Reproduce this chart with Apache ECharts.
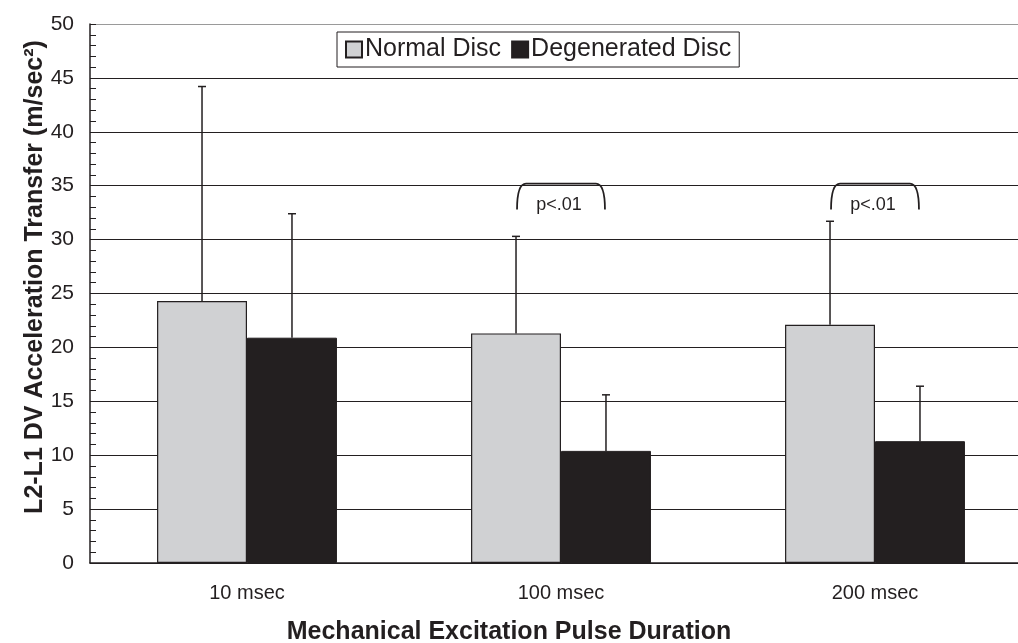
<!DOCTYPE html>
<html><head><meta charset="utf-8">
<script src="https://cdn.jsdelivr.net/npm/echarts@6/dist/echarts.min.js"></script>
<style>html,body{margin:0;padding:0;background:#fff;overflow:hidden;width:1018px;height:643px}#c{width:1032px;height:643px}</style>
</head><body><div id="c"></div>
<script>
var categories = ['10 msec', '100 msec', '200 msec'];
var normalMean = [24.3, 21.3, 22.1];
var normalSD = [19.9, 9.0, 9.6];
var degenMean = [20.9, 10.4, 11.3];
var degenSD = [11.5, 5.2, 5.1];
var sigCategories = [1, 2];
var sigLabel = 'p<.01';
var bracketTop = 35.2, bracketBottom = 32.8, bracketText = 33.2;
var yTicks = [0, 5, 10, 15, 20, 25, 30, 35, 40, 45, 50];

var FONT = '"Liberation Sans", Arial, Helvetica, sans-serif';
var INK = '#231f20';
var GAP = 0.427;

function errData(mean, sd) { return mean.map(function (m, i) { return [i, m, m + sd[i]]; }); }

function errRender(sign) {
  return function (params, api) {
    var idx = api.value(0);
    var band = api.size([1, 0])[0];
    var bw = band * (1 - GAP) / 2;
    var p0 = api.coord([idx, api.value(1)]);
    var p1 = api.coord([idx, api.value(2)]);
    var x = p0[0] + sign * bw / 2;
    return {
      type: 'group', children: [
        { type: 'line', shape: { x1: x, y1: p0[1], x2: x, y2: p1[1] }, style: { stroke: INK, lineWidth: 1.5 } },
        { type: 'line', shape: { x1: x - 4, y1: p1[1], x2: x + 4, y2: p1[1] }, style: { stroke: INK, lineWidth: 1.5 } }
      ]
    };
  };
}

var gridColors = yTicks.map(function (v, i) { return i === yTicks.length - 1 ? '#9a9a9a' : INK; });

var chart = echarts.init(document.getElementById('c'));
chart.setOption({
  animation: false,
  backgroundColor: '#fff',
  textStyle: { fontFamily: FONT },
  grid: { left: 90, top: 24, right: 0, bottom: 80, containLabel: false },
  legend: {
    data: ['Normal Disc', 'Degenerated Disc'],
    left: 337, top: 32,
    icon: 'rect', itemWidth: 16, itemHeight: 16, itemGap: 10,
    padding: [5, 8, 5, 8],
    borderColor: INK, borderWidth: 1, backgroundColor: '#fff',
    textStyle: { fontSize: 25, color: INK, fontFamily: FONT, padding: [0, 0, 0, -2] }
  },
  xAxis: {
    type: 'category', data: categories,
    axisLine: { lineStyle: { color: INK, width: 1.5 } },
    axisTick: { show: false },
    axisLabel: { fontSize: 20, color: INK, margin: 20, fontFamily: FONT },
    splitLine: { show: false }
  },
  yAxis: {
    type: 'value', min: 0, max: 50, interval: 5,
    axisLine: { show: true, lineStyle: { color: INK, width: 1.5 } },
    axisTick: { show: true, inside: true, length: 6, lineStyle: { color: INK } },
    minorTick: { show: true, splitNumber: 5, length: 6, lineStyle: { color: INK } },
    axisLabel: { fontSize: 21, color: INK, margin: 16, fontFamily: FONT,
      formatter: function (v) { return yTicks.indexOf(v) >= 0 ? String(v) : ''; } },
    splitLine: { show: true, lineStyle: { color: gridColors, width: 1 } }
  },
  graphic: [
    { type: 'text', x: 35, y: 277, rotation: Math.PI / 2,
      style: { text: 'L2-L1 DV Acceleration Transfer (m/sec²)', fontSize: 25, fontWeight: 'bold', fill: INK,
        fontFamily: FONT, textAlign: 'center', textVerticalAlign: 'middle' } },
    { type: 'text', x: 509, y: 632,
      style: { text: 'Mechanical Excitation Pulse Duration', fontSize: 25, fontWeight: 'bold', fill: INK,
        fontFamily: FONT, textAlign: 'center', textVerticalAlign: 'middle' } }
  ],
  series: [
    { name: 'Normal Disc', type: 'bar', data: normalMean, barGap: '0%', barCategoryGap: (GAP * 100) + '%',
      itemStyle: { color: '#d0d1d3', borderColor: INK, borderWidth: 1.2 }, z: 3 },
    { name: 'Degenerated Disc', type: 'bar', data: degenMean, barGap: '0%', barCategoryGap: (GAP * 100) + '%',
      itemStyle: { color: INK, borderColor: INK, borderWidth: 1 }, z: 3 },
    { type: 'custom', data: errData(normalMean, normalSD), renderItem: errRender(-1), z: 4, silent: true,
      encode: { x: 0, y: [1, 2] } },
    { type: 'custom', data: errData(degenMean, degenSD), renderItem: errRender(1), z: 4, silent: true,
      encode: { x: 0, y: [1, 2] } },
    { type: 'custom', z: 4, silent: true,
      data: sigCategories.map(function (c) { return [c, bracketTop, bracketBottom, bracketText]; }),
      encode: { x: 0, y: [1, 2] },
      renderItem: function (params, api) {
        var idx = api.value(0);
        var band = api.size([1, 0])[0];
        var half = band * 0.14;
        var pt = api.coord([idx, api.value(1)]);
        var pb = api.coord([idx, api.value(2)]);
        var pl = api.coord([idx, api.value(3)]);
        var L = pt[0] - half, R = pt[0] + half, T = pt[1], B = pb[1];
        var path = 'M' + L + ' ' + B + ' Q' + L + ' ' + T + ' ' + (L + 9) + ' ' + T +
          ' L' + (R - 9) + ' ' + T + ' Q' + R + ' ' + T + ' ' + R + ' ' + B;
        return {
          type: 'group', children: [
            { type: 'path', shape: { pathData: path }, style: { fill: 'none', stroke: INK, lineWidth: 1.8 } },
            { type: 'text', x: pt[0] - 2, y: pl[1],
              style: { text: sigLabel, fontSize: 18, fill: INK, fontFamily: FONT, textAlign: 'center', textVerticalAlign: 'middle' } }
          ]
        };
      }
    }
  ]
});
</script></body></html>
